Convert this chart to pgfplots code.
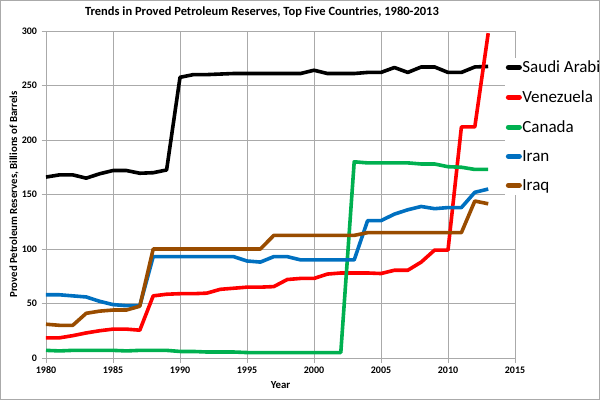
\documentclass[border=0pt]{standalone}
\usepackage{pgfplots}
\pgfplotsset{compat=1.18}
\usepackage{pgfplotstable}
\usepackage{fontspec}
\setmainfont{Carlito}
\definecolor{sauCol}{RGB}{0,0,0}
\definecolor{venCol}{RGB}{255,0,0}
\definecolor{canCol}{RGB}{0,176,80}
\definecolor{iranCol}{RGB}{0,112,192}
\definecolor{iraqCol}{RGB}{153,76,0}
\definecolor{gridCol}{RGB}{170,170,170}

% year, reserves in billions of barrels
\pgfplotstableread{
year saudi venez canada iran iraq
1980 166   18.5  7     58   31
1981 168   18.5  6.5   58   30
1982 168   20.5  7     57   30
1983 165   23    7     56   41
1984 169   25    7     52   43
1985 172   26.5  7     49   44
1986 172   26.5  6.5   48   44
1987 169.5 25.5  7     48   47.5
1988 170   57    7     93   100
1989 172.5 58.5  7     93   100
1990 257.5 59    6     93   100
1991 260   59    6     93   100
1992 260   59.5  5.5   93   100
1993 260.5 63    5.5   93   100
1994 261   64    5.5   93   100
1995 261   65    5     89   100
1996 261   65    5     88   100
1997 261   65.5  5     93   112.5
1998 261   72    5     93   112.5
1999 261   73    5     90   112.5
2000 264   73    5     90   112.5
2001 261   77    5     90   112.5
2002 261   78    5     90   112.5
2003 261   78    180   90   112.5
2004 262   78    179   126  115
2005 262   77.5  179   126  115
2006 266.5 80.5  179   132  115
2007 262   80.5  179   136  115
2008 267   88    178   139  115
2009 267   99    178   137  115
2010 262   99    175.5 138  115
2011 262   212   175   138  115
2012 267   212   173   152  144
2013 267.5 298   173   155  141.5
}\reserves

\begin{document}
\begin{tikzpicture}
\begin{axis}[
    at={(46pt,42pt)}, anchor=south west,
    scale only axis,
    width=469pt, height=327pt,
    xmin=1980, xmax=2015, ymin=0, ymax=300,
    xtick={1980,1985,...,2015},
    ytick={0,50,...,300},
    xtick pos=bottom, ytick pos=left,
    tick align=outside, major tick length=4.5pt,
    grid=major,
    major grid style={draw=gridCol, line width=0.9pt},
    axis line style={draw=gridCol, line width=0.9pt},
    tick style={draw=gridCol, line width=0.9pt},
    /pgf/number format/1000 sep={},
    /pgf/number format/assume math mode=true,
    ticklabel style={font=\bfseries\fontsize{10}{12}\selectfont},
    xticklabel style={yshift=-1pt},
    yticklabel style={xshift=-1pt},
    xlabel={Year},
    ylabel={Proved Petroleum Reserves, Billions of Barrels},
    label style={font=\bfseries\fontsize{10.8}{12}\selectfont},
    xlabel style={at={(rel axis cs:0.5,0)}, anchor=center, yshift=-27pt},
    ylabel style={at={(rel axis cs:0,0.5)}, anchor=center, yshift=32pt},
    every axis plot/.append style={line width=3.6pt, line join=round},
    legend image code/.code={\draw[#1, line width=5pt, line cap=round] (0pt,0pt) -- (11pt,0pt);},
    legend style={
        at={(rel axis cs:0.978,0.709)}, anchor=west,
        draw=none, fill=white, inner sep=1pt,
        font=\fontsize{17}{20}\selectfont,
        row sep=12.5pt,
        /tikz/every even column/.append style={column sep=0pt},
        nodes={inner xsep=0.5pt},
    },
    legend cell align=left,
]
\addplot[sauCol]  table[x=year, y=saudi]  {\reserves};
\addplot[venCol]  table[x=year, y=venez]  {\reserves};
\addplot[canCol]  table[x=year, y=canada] {\reserves};
\addplot[iranCol] table[x=year, y=iran]   {\reserves};
\addplot[iraqCol] table[x=year, y=iraq]   {\reserves};
\legend{Saudi Arabi, Venezuela, Canada, Iran, Iraq}
\end{axis}
\node[font=\bfseries\fontsize{12.5}{14}\selectfont] at (262pt,388pt)
    {Trends in Proved Petroleum Reserves, Top Five Countries, 1980-2013};
\pgfresetboundingbox
\draw[gridCol, line width=1pt] (0.5pt,0.5pt) rectangle (599.5pt,399.5pt);
\end{tikzpicture}
\end{document}
